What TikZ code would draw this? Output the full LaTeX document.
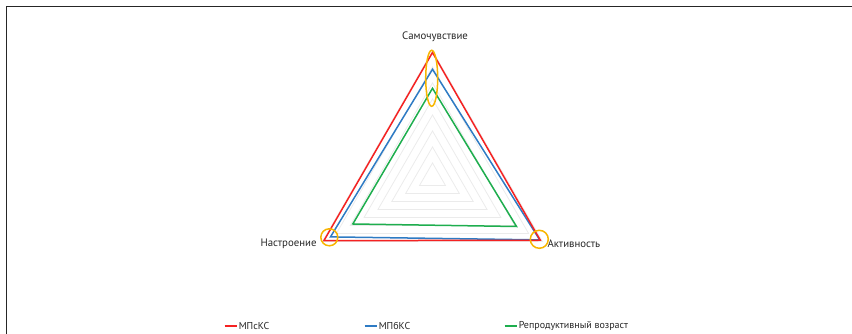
\documentclass[tikz,border=0pt]{standalone}
\usepackage{fontspec}
\setmainfont{PT Sans}
\definecolor{lineRed}{HTML}{F52222}
\definecolor{lineBlue}{HTML}{2E7BC4}
\definecolor{lineGreen}{HTML}{1EAE4E}
\definecolor{markGold}{HTML}{F7B500}
\tikzset{
  series/.style={line width=1.5pt, line join=miter},
  gridline/.style={black!8, line width=0.8pt},
  axislabel/.style={text=black!85, inner sep=1pt},
  ring/.style={markGold, line width=1.5pt}
}

\begin{document}
\begin{tikzpicture}[x=1pt, y=1pt, line width=1pt, font=\fontsize{10}{12}\selectfont]
    \useasboundingbox (0, 0) rectangle (852, 334);

    % draw outer frame (only top and left edges are visible)
    \draw[line width=1.3pt, black!85] (6.5, 0) -- (6.5, 327.5) -- (852, 327.5);

    \begin{scope}[shift={(432.5, 156)}]
        % draw grid triangles
        \foreach \r in {15, 31, 47, 63, 79, 95, 111, 127}
            \draw[gridline] (90:\r) -- (210:\r) -- (330:\r) -- cycle;

        % draw data series
        \draw[series, lineGreen] (90:89.7) -- (210:92) -- (330:97) -- cycle;
        \draw[series, lineBlue]  (90:108.7) -- (210:117.8) -- (330:123.8) -- cycle;
        \draw[series, lineRed]   (90:125.5) -- (210:125.4) -- (330:124.5) -- cycle;

        % draw highlight rings
        \draw[ring] (-0.8, 99.7) ellipse (6 and 28);
        \draw[ring] (-103.2, -59.3) circle (8.5);
        \draw[ring] (106.8, -61.3) circle (9);

        % axis labels
        \begin{scope}[font=\fontsize{10.8}{13}\selectfont]
            \node[axislabel] (wellbeing) at (2.5, 141) {Самочувствие};
            \node[axislabel, anchor=east] (mood) at (-114.5, -66) {Настроение};
            \node[axislabel, anchor=west] (activity) at (113.5, -66) {Активность};
        \end{scope}
    \end{scope}

    % draw legend
    \coordinate (keyA) at (224.5, 8);
    \coordinate (keyB) at (364.5, 8);
    \coordinate (keyC) at (504.5, 8);
    \draw[series, lineRed]   (keyA) -- ++(12.5, 0) node[axislabel, anchor=west] (nameA) {МПсКС};
    \draw[series, lineBlue]  (keyB) -- ++(12.5, 0) node[axislabel, anchor=west] (nameB) {МПбКС};
    \draw[series, lineGreen] (keyC) -- ++(12.5, 0) node[axislabel, anchor=west] (nameC) {Репродуктивный возраст};

\end{tikzpicture}
\end{document}
